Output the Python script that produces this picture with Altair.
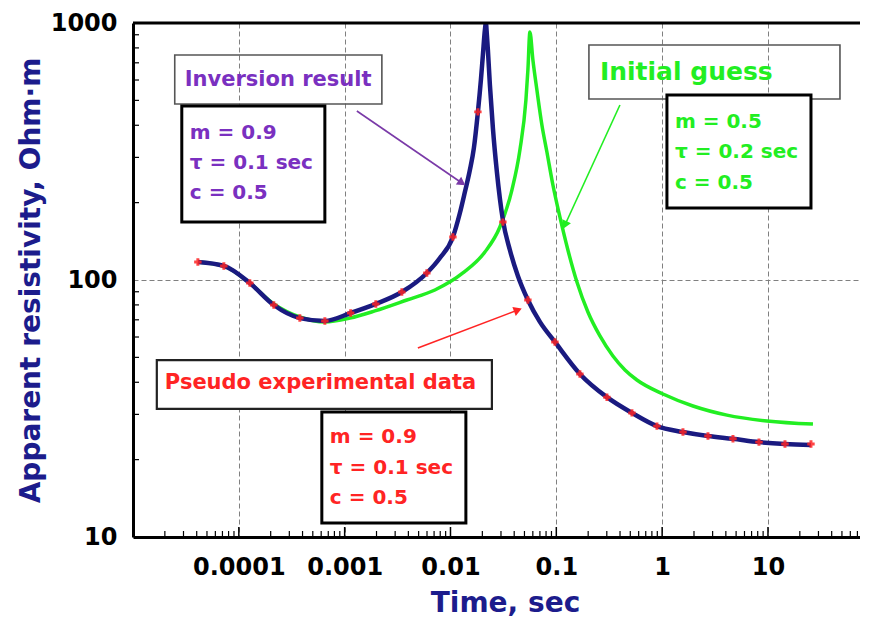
import altair as alt
import pandas as pd

# ---------------- data ----------------
# pseudo experimental data (red markers)
data_t = [4.10e-5, 7.22e-5, 1.27e-4, 2.14e-4, 3.77e-4, 6.50e-4, 1.14e-3, 1.97e-3,
          3.47e-3, 5.98e-3, 1.054e-2, 1.816e-2, 3.128e-2, 5.39e-2, 9.70e-2, 0.1671,
          0.3008, 0.5184, 0.8932, 1.573, 2.710, 4.669, 8.220, 14.48, 25.49]
data_rho = [117.5, 113.4, 97.3, 79.9, 71.1, 69.3, 74.4, 80.7, 89.8, 106.5, 147.0, 451.0,
            168.0, 83.6, 57.4, 43.1, 35.0, 30.4, 27.0, 25.6, 24.7, 24.1, 23.4, 23.0, 23.0]

# inversion result (navy curve)
inv_t = [4.10e-5, 7.22e-5, 1.27e-4, 2.14e-4, 3.77e-4, 6.50e-4, 1.14e-3, 1.97e-3, 3.47e-3,
         5.98e-3, 7.94e-3, 1.054e-2, 1.227e-2, 1.368e-2, 1.525e-2, 1.664e-2, 1.816e-2,
         1.938e-2, 2.024e-2, 2.114e-2, 2.161e-2, 2.208e-2, 2.257e-2, 2.357e-2, 2.516e-2,
         2.745e-2, 3.128e-2, 3.642e-2, 4.336e-2, 5.39e-2, 7.00e-2, 9.70e-2,
         0.1671, 0.3008, 0.5184, 0.8932, 1.573, 2.710, 4.669, 8.220, 14.48, 25.49]
inv_rho = [117.5, 113.4, 97.3, 79.9, 71.1, 69.3, 74.4, 80.7, 89.8,
           106.5, 121.8, 147.0, 182.3, 220.0, 267.9, 326.3, 450.6,
           600.1, 750.7, 939.2, 1000.0, 898.0, 785.2, 573.9, 390.3,
           263.2, 171.2, 130.8, 103.7, 83.6, 68.7, 57.4,
           43.1, 35.0, 30.4, 27.0, 25.6, 24.7, 24.1, 23.4, 23.0, 22.8]

# initial guess (green curve)
guess_t = [4.10e-5, 7.22e-5, 1.27e-4, 2.14e-4, 3.77e-4, 6.50e-4, 1.119e-3, 1.930e-3,
           3.872e-3, 7.12e-3, 1.310e-2, 2.114e-2, 2.930e-2, 3.804e-2, 4.529e-2, 5.161e-2,
           5.39e-2, 5.629e-2, 6.009e-2, 6.556e-2, 7.309e-2, 8.15e-2, 9.288e-2, 0.1081,
           0.1287, 0.1566, 0.1989, 0.2583, 0.3428, 0.4453, 0.5778, 1.018, 1.955, 4.098,
           9.78, 26.62]
guess_rho = [117.5, 113.4, 97.3, 80.7, 71.8, 68.7, 71.1, 75.8,
             83.6, 91.4, 106.5, 128.5, 160.8, 223.9, 320.5, 501.6,
             656.5, 922.6, 717.8, 548.6, 401.0, 314.8, 234.2, 175.9,
             130.8, 98.2, 75.07, 60.56, 50.61, 44.66, 40.82, 36.0, 32.34, 29.8,
             28.28, 27.5]

# tick labels / axis values
x_ticks = [1e-4, 1e-3, 1e-2, 0.1, 1, 10]
y_ticks = [10, 100, 1000]

# annotation texts
ann_text = ["Inversion result", "m = 0.9", "τ = 0.1 sec", "c = 0.5",
            "Initial guess", "m = 0.5", "τ = 0.2 sec", "c = 0.5",
            "Pseudo experimental data", "m = 0.9", "τ = 0.1 sec", "c = 0.5"]
ann_t = [3.087e-5, 3.442e-5, 3.442e-5, 3.442e-5,
         0.2583, 1.321, 1.321, 1.321,
         2.0e-5, 7.246e-4, 7.246e-4, 7.246e-4]
ann_rho = [600.1, 373.3, 285.3, 218.0,
           644.7, 411.9, 314.9, 238.5,
           39.72, 24.5, 18.56, 14.19]

PURPLE = "#7a30c0"
GREEN = "#22ee22"
RED = "#ff2424"
NAVY = "#1a1a80"
TITLE = "#1c1c8c"
ann_color = [PURPLE] * 4 + [GREEN] * 4 + [RED] * 4
ann_size = [21, 20, 20, 20, 25, 20, 20, 20, 21, 20, 20, 20]

# boxes (data coordinates)
box_t0 = [2.48e-5, 2.891e-5, 0.2033, 1.110, 1.679e-5, 6.086e-4]
box_t1 = [2.247e-3, 6.50e-4, 47.9, 25.49, 2.462e-2, 1.398e-2]
box_r0 = [750.6, 475.3, 821.2, 524.5, 48.8, 30.64]
box_r1 = [483.9, 168.2, 506.1, 190.6, 31.5, 11.34]
box_kind = ["thin", "thick", "thin", "thick", "mid", "thick"]

# arrows
arr_t0 = [1.304e-3, 0.3992, 4.917e-3]
arr_r0 = [454.6, 479.6, 54.38]
arr_t1 = [1.282e-2, 0.1206, 4.336e-2]
arr_r1 = [238.5, 163.7, 76.43]
arr_ang = [34.4, 114.6, 339.2]
arr_col = ["#7a3aa8", GREEN, RED]

X_MIN, X_MAX = 1e-5, 74.07
W, H = 727, 514
FONT = "DejaVu Sans"

xs = alt.Scale(type="log", domain=[X_MIN, X_MAX], nice=False)
ys = alt.Scale(type="log", domain=[10, 1000], nice=False)

x_axis = alt.Axis(values=x_ticks, format=".4~f", labelFont=FONT, labelFontWeight="bold",
                  labelFontSize=24, labelColor="black", labelPadding=18, tickSize=0,
                  labelOverlap=False, labelFlush=False,
                  domainColor="black", domainWidth=3, grid=True, gridColor="#808080",
                  gridDash=[5, 3], gridWidth=1,
                  title="Time, sec", titleFont=FONT, titleFontWeight="bold",
                  titleFontSize=28, titleColor=TITLE, titleX=372, titleY=74,
                  titleBaseline="alphabetic", titleAlign="center")
y_axis = alt.Axis(values=y_ticks, format="d", labelFont=FONT, labelFontWeight="bold",
                  labelFontSize=24, labelColor="black", labelPadding=16, tickSize=0,
                  labelOverlap=False, labelFlush=False,
                  domainColor="black", domainWidth=3, grid=True, gridColor="#808080",
                  gridDash=[5, 3], gridWidth=1,
                  title="Apparent resistivity, Ohm·m", titleFont=FONT,
                  titleFontWeight="bold", titleFontSize=28, titleColor=TITLE,
                  titleX=-94, titleY=H / 2, titleAngle=270,
                  titleBaseline="alphabetic", titleAlign="center")


def X(field):
    return alt.X(field, scale=xs, axis=x_axis)


def Y(field):
    return alt.Y(field, scale=ys, axis=y_axis)


df_data = pd.DataFrame({"t": data_t, "rho": data_rho})
df_inv = pd.DataFrame({"t": inv_t, "rho": inv_rho})
df_guess = pd.DataFrame({"t": guess_t, "rho": guess_rho})
df_ann = pd.DataFrame({"t": ann_t, "rho": ann_rho, "txt": ann_text,
                       "col": ann_color, "size": ann_size})
df_box = pd.DataFrame({"t0": box_t0, "t1": box_t1, "r0": box_r0, "r1": box_r1,
                       "kind": box_kind})
df_arr = pd.DataFrame({"t0": arr_t0, "r0": arr_r0, "t1": arr_t1, "r1": arr_r1,
                       "ang": arr_ang, "col": arr_col})

# axis decoration: inward minor ticks
x_minor = [m * 10.0 ** k for k in range(-5, 2) for m in range(2, 10) if m * 10.0 ** k < X_MAX]
y_minor = [m * 10.0 ** k for k in range(1, 3) for m in range(2, 10)]
df_xmin = pd.DataFrame({"t": x_minor})
df_xmaj = pd.DataFrame({"t": x_ticks})
df_ymin = pd.DataFrame({"rho": y_minor})
df_top = pd.DataFrame({"t": [X_MIN], "t1": [X_MAX], "rho": [1000]})

guess_line = alt.Chart(df_guess).mark_line(color=GREEN, strokeWidth=3.5, clip=True,
                                           interpolate="monotone").encode(
    x=X("t:Q"), y=Y("rho:Q"), order="t:Q")
inv_line = alt.Chart(df_inv).mark_line(color=NAVY, strokeWidth=4.5, clip=True,
                                       interpolate="monotone").encode(
    x=X("t:Q"), y=Y("rho:Q"), order="t:Q")
pts = alt.Chart(df_data).mark_point(shape="cross", filled=True, size=55, color=RED,
                                    opacity=0.85).encode(x=X("t:Q"), y=Y("rho:Q"))

xminor = alt.Chart(df_xmin).mark_rule(color="black", strokeWidth=1.2).encode(
    x=X("t:Q"), y=alt.value(H), y2=alt.value(H - 6))
xmajor = alt.Chart(df_xmaj).mark_rule(color="black", strokeWidth=1.5).encode(
    x=X("t:Q"), y=alt.value(H), y2=alt.value(H - 10))
yminor = alt.Chart(df_ymin).mark_rule(color="black", strokeWidth=1.2).encode(
    y=Y("rho:Q"), x=alt.value(0), x2=alt.value(6))
top = alt.Chart(df_top).mark_rule(color="black", strokeWidth=3).encode(
    x=X("t:Q"), x2="t1:Q", y=Y("rho:Q"))

box_base = alt.Chart(df_box).encode(x=X("t0:Q"), x2="t1:Q", y=Y("r0:Q"), y2="r1:Q")
box_thin = box_base.transform_filter(alt.datum.kind == "thin").mark_rect(
    fill="white", fillOpacity=0, stroke="#555555", strokeWidth=1.6)
box_mid = box_base.transform_filter(alt.datum.kind == "mid").mark_rect(
    fill="white", stroke="#222222", strokeWidth=2.2)
box_thick = box_base.transform_filter(alt.datum.kind == "thick").mark_rect(
    fill="white", stroke="black", strokeWidth=3)

arr_lines = alt.Chart(df_arr).mark_rule(strokeWidth=1.6).encode(
    x=X("t0:Q"), x2="t1:Q", y=Y("r0:Q"), y2="r1:Q",
    color=alt.Color("col:N", scale=None))
arr_heads = alt.Chart(df_arr).mark_point(shape="triangle-right", filled=True, size=90,
                                         opacity=1).encode(
    x=X("t1:Q"), y=Y("r1:Q"),
    angle=alt.Angle("ang:Q", scale=None),
    color=alt.Color("col:N", scale=None))

texts = alt.Chart(df_ann).mark_text(align="left", baseline="middle", font=FONT,
                                    fontWeight="bold").encode(
    x=X("t:Q"), y=Y("rho:Q"),
    text="txt:N",
    color=alt.Color("col:N", scale=None),
    size=alt.Size("size:Q", scale=None),
)

chart = alt.layer(
    guess_line, inv_line, pts, xminor, xmajor, yminor, top,
    box_thin, box_mid, box_thick, arr_lines, arr_heads, texts,
).properties(
    width=W, height=H,
    autosize=alt.AutoSizeParams(type="none"),
    padding={"left": 125, "top": 15, "right": 0, "bottom": 80},
).configure_view(stroke=None).configure(background="white")

chart.save("out.html", embed_options={"renderer": "svg", "actions": False})
